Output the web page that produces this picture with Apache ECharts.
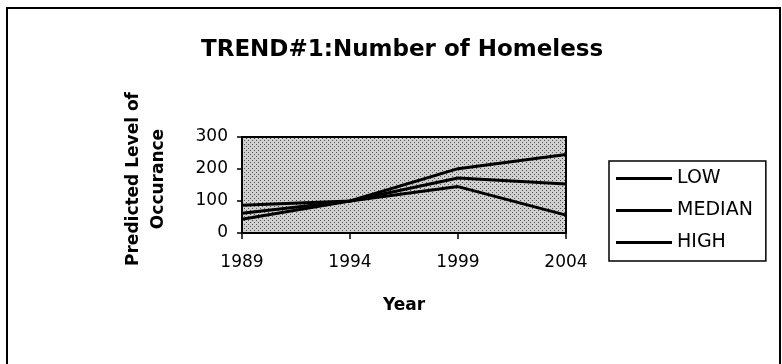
<!DOCTYPE html>
<html>
<head>
<meta charset="utf-8">
<script src="https://cdn.jsdelivr.net/npm/echarts@6/dist/echarts.min.js"></script>
<style>
  html, body { margin: 0; padding: 0; background: #fff; }
  #chart { width: 782px; height: 364px; }
</style>
</head>
<body>
<div id="chart"></div>
<script>
(function () {
  var myChart = echarts.init(document.getElementById("chart"));

  const years = ["1989", "1994", "1999", "2004"];
  const lowData = [87, 100, 145, 56];
  const medianData = [62, 100, 172, 153];
  const highData = [43, 100, 201, 245];
  const yTicks = [0, 100, 200, 300];

  // dotted grey fill of the plot area
  const tile = document.createElement("canvas");
  tile.width = 4;
  tile.height = 4;
  const ctx = tile.getContext("2d");
  ctx.fillStyle = "#d0d0d0";
  ctx.fillRect(0, 0, 4, 4);
  ctx.fillStyle = "#505050";
  ctx.fillRect(0, 0, 1, 1);
  ctx.fillRect(2, 2, 1, 1);

  const font = "DejaVu Sans";
  const lineStyle = { color: "#000", width: 3 };

  function makeSeries(name, data) {
    return {
      name: name,
      type: "line",
      data: data,
      symbol: "none",
      lineStyle: lineStyle,
      itemStyle: { color: "#000" },
    };
  }

  option = {
    backgroundColor: "#fff",
    animation: false,
    title: {
      text: "TREND#1:Number of Homeless",
      left: 201,
      top: 39,
      padding: 0,
      textStyle: {
        fontFamily: font,
        fontSize: 23,
        fontWeight: "bold",
        color: "#000",
      },
    },
    legend: {
      orient: "vertical",
      left: 609,
      top: 161,
      padding: [7, 13, 8, 7],
      borderColor: "#000",
      borderWidth: 1.5,
      itemGap: 11,
      itemWidth: 56,
      itemHeight: 3,
      icon: "rect",
      textStyle: {
        fontFamily: font,
        fontSize: 19,
        color: "#000",
        lineHeight: 21,
      },
      data: ["LOW", "MEDIAN", "HIGH"],
    },
    grid: {
      left: 242,
      right: 216,
      top: 137,
      bottom: 131,
      show: true,
      borderColor: "#000",
      borderWidth: 2,
      backgroundColor: { image: tile, repeat: "repeat" },
    },
    xAxis: {
      type: "category",
      data: years,
      boundaryGap: false,
      name: "Year",
      nameLocation: "middle",
      nameGap: 64,
      nameTextStyle: {
        fontFamily: font,
        fontSize: 17,
        fontWeight: "bold",
        color: "#000",
      },
      axisLine: { lineStyle: { color: "#000", width: 2 } },
      axisTick: { show: true, length: 6, lineStyle: { color: "#000", width: 1.5 } },
      axisLabel: { fontFamily: font, fontSize: 17, color: "#000", margin: 21 },
      splitLine: { show: false },
    },
    yAxis: {
      type: "value",
      min: yTicks[0],
      max: yTicks[yTicks.length - 1],
      interval: 100,
      name: "Predicted Level of\nOccurance",
      nameLocation: "middle",
      nameGap: 71,
      nameTextStyle: {
        fontFamily: font,
        fontSize: 17,
        fontWeight: "bold",
        color: "#000",
        lineHeight: 25,
        padding: [0, 0, 0, 12],
      },
      axisLine: { show: true, lineStyle: { color: "#000", width: 2 } },
      axisTick: { show: true, length: 5, lineStyle: { color: "#000", width: 1.5 } },
      axisLabel: { fontFamily: font, fontSize: 17, color: "#000", margin: 14 },
      splitLine: { show: false },
    },
    graphic: [
      {
        type: "rect",
        shape: { x: 7, y: 8, width: 773, height: 380 },
        style: { fill: "none", stroke: "#000", lineWidth: 2 },
        silent: true,
      },
    ],
    series: [
      makeSeries("LOW", lowData),
      makeSeries("MEDIAN", medianData),
      makeSeries("HIGH", highData),
    ],
  };

  myChart.setOption(option, true);

  window.onresize = function () {
    myChart.resize();
  };
})();
</script>
</body>
</html>
